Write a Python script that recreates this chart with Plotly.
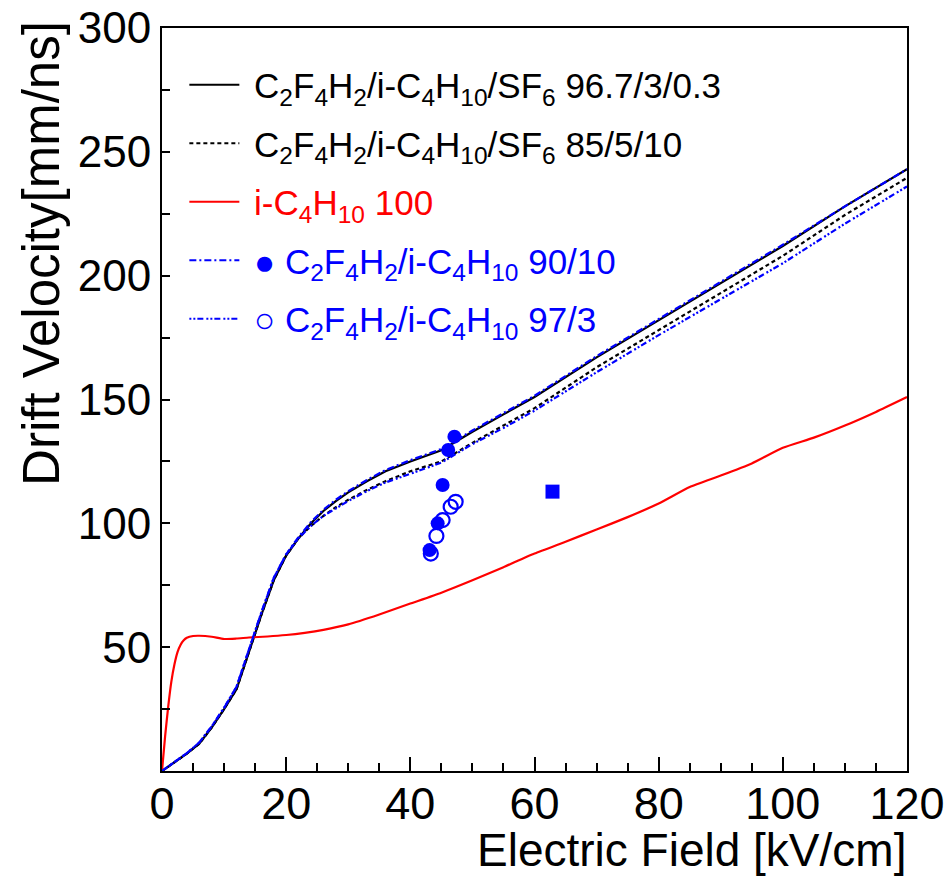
import plotly.graph_objects as go

# ---------------- data ----------------
E_sim = [0, 2, 4, 6, 8, 10, 12, 14, 16, 18, 20, 22, 24, 26, 28, 30, 33, 36, 40,
         45, 50, 55, 60, 70, 80, 90, 100, 110, 120]
v_sf6_967 = [0, 3.5, 7, 11, 17.5, 25, 33, 48, 63, 77, 87, 94, 100, 105, 109, 112.5,
             117, 121, 125, 129.5, 137, 144, 151, 167, 182, 197, 212, 228, 243]
v_sf6_85 = [0, 3.5, 7, 11, 17.5, 25, 33, 48, 63, 77, 87, 94, 99, 103, 106.5, 109.5,
            113.5, 117, 121, 125, 132.5, 139.5, 146.5, 163, 178, 193, 208, 224.5, 239.5]
v_9010 = [0, 3.5, 7.2, 11.5, 18, 25.5, 34, 49, 64, 78, 87.5, 94.5, 100.5, 105.5, 109.5,
          113, 117.5, 121.5, 125.5, 130, 137.5, 144.5, 151.5, 167.5, 182.5, 197.5, 212.5,
          228, 243]
v_973 = [0, 3.5, 7.2, 11.5, 18, 25.5, 34, 49, 64, 78, 87.5, 94, 99, 103, 106, 109,
         113, 116.5, 120, 124.5, 132, 138.5, 145.5, 161, 176, 190.5, 205, 221, 236]

E_iso = [0, 0.5, 1, 1.5, 2, 2.5, 3, 3.5, 4, 5, 6, 8, 10, 12, 14, 17, 20, 23, 26, 30,
         35, 40, 45, 50, 55, 60, 65, 70, 75, 80, 85, 90, 95, 100, 105, 110, 115, 120]
v_iso = [0, 14, 26, 36, 43, 48, 51, 52.8, 53.8, 54.5, 54.6, 54.2, 53.3, 53.5, 53.9,
         54.3, 54.9, 55.8, 57, 59.2, 63.2, 67.6, 72, 77, 82.3, 87.8, 92.6, 97.5, 102.5,
         108, 114.7, 119.3, 124.2, 130.5, 134.6, 139.5, 145, 151]

E_meas_9010 = [43.1, 44.4, 45.2, 46.1, 47.1]
v_meas_9010 = [89.2, 100.0, 115.5, 129.6, 135.0]
E_meas_973 = [43.3, 44.2, 45.2, 46.5, 47.3]
v_meas_973 = [87.8, 94.9, 101.3, 106.7, 108.7]
E_square = [62.9]
v_square = [112.8]

x_ticks = [0, 20, 40, 60, 80, 100, 120]
y_ticks = [50, 100, 150, 200, 250, 300]

name_967 = " C<sub>2</sub>F<sub>4</sub>H<sub>2</sub>/i-C<sub>4</sub>H<sub>10</sub>/SF<sub>6</sub> 96.7/3/0.3"
name_85 = " C<sub>2</sub>F<sub>4</sub>H<sub>2</sub>/i-C<sub>4</sub>H<sub>10</sub>/SF<sub>6</sub> 85/5/10"
name_iso = "<span style='color:#ff0000'> i-C<sub>4</sub>H<sub>10</sub> 100</span>"
name_9010 = "<span style='color:#0000ff'> ● C<sub>2</sub>F<sub>4</sub>H<sub>2</sub>/i-C<sub>4</sub>H<sub>10</sub> 90/10</span>"
name_973 = "<span style='color:#0000ff'> ○ C<sub>2</sub>F<sub>4</sub>H<sub>2</sub>/i-C<sub>4</sub>H<sub>10</sub> 97/3</span>"

BLUE = "#0000ff"
RED = "#ff0000"
FONT = "Liberation Sans, Arial, sans-serif"

fig = go.Figure()
fig.add_trace(go.Scatter(x=E_sim, y=v_sf6_967, mode="lines", name=name_967,
                         legendgroup="a", line=dict(color="black", width=2.2)))
fig.add_trace(go.Scatter(x=E_sim, y=v_sf6_85, mode="lines", name=name_85,
                         legendgroup="b", line=dict(color="black", width=2.2, dash="4px,3px")))
fig.add_trace(go.Scatter(x=E_iso, y=v_iso, mode="lines", name=name_iso,
                         legendgroup="c", line=dict(color=RED, width=2.2, shape="spline", smoothing=0.5)))
fig.add_trace(go.Scatter(x=E_sim, y=v_9010, mode="lines", name=name_9010,
                         legendgroup="d", line=dict(color=BLUE, width=2.2, dash="7px,3px,2px,3px")))
fig.add_trace(go.Scatter(x=E_sim, y=v_973, mode="lines", name=name_973,
                         legendgroup="e", line=dict(color=BLUE, width=2.2, dash="2px,2px,2px,2px,6px,3px")))

fig.add_trace(go.Scatter(x=E_meas_9010, y=v_meas_9010, mode="markers", showlegend=False,
                         marker=dict(symbol="circle", size=14, color=BLUE)))
fig.add_trace(go.Scatter(x=E_meas_973, y=v_meas_973, mode="markers", showlegend=False,
                         marker=dict(symbol="circle-open", size=14, color=BLUE,
                                     line=dict(width=2.2, color=BLUE))))
fig.add_trace(go.Scatter(x=E_square, y=v_square, mode="markers", showlegend=False,
                         marker=dict(symbol="square", size=14, color=BLUE)))

fig.update_layout(
    width=948, height=877,
    margin=dict(l=162, r=41, t=28, b=106, autoexpand=False),
    paper_bgcolor="white", plot_bgcolor="white",
    font=dict(family=FONT, color="black"),
    legend=dict(x=0.03, y=0.963, xanchor="left", yanchor="top",
                bgcolor="rgba(0,0,0,0)", font=dict(size=35, family=FONT),
                tracegroupgap=10, itemwidth=50),
    annotations=[
        dict(text="Drift Velocity[mm/ns]", textangle=-90, xref="paper", yref="paper",
             x=-0.162, y=1.012, xanchor="center", yanchor="top", showarrow=False,
             font=dict(size=51, family=FONT)),
        dict(text="Electric Field [kV/cm]", xref="paper", yref="paper",
             x=1.0, y=-0.106, xanchor="right", yanchor="middle", showarrow=False,
             borderpad=0, font=dict(size=46, family=FONT)),
    ],
)

fig.update_xaxes(range=[0, 120], tickvals=x_ticks, ticks="inside", ticklen=14, tickwidth=1.5,
                 tickcolor="black", showline=True, linecolor="black", linewidth=2, mirror=True,
                 showgrid=False, zeroline=False, tickfont=dict(size=45, family=FONT),
                 automargin=False, ticklabelstandoff=-8,
                 minor=dict(dtick=5, tick0=0, ticks="inside", ticklen=8, tickwidth=1.5,
                            tickcolor="black", showgrid=False))
fig.update_yaxes(range=[0, 300], tickvals=y_ticks, ticks="inside", ticklen=8, tickwidth=1.5,
                 tickcolor="black", showline=True, linecolor="black", linewidth=2, mirror=True,
                 showgrid=False, zeroline=False, tickfont=dict(size=44, family=FONT),
                 automargin=False,
                 minor=dict(dtick=25, tick0=0, ticks="inside", ticklen=8, tickwidth=1.5,
                            tickcolor="black", showgrid=False))

fig.write_html("out.html")
